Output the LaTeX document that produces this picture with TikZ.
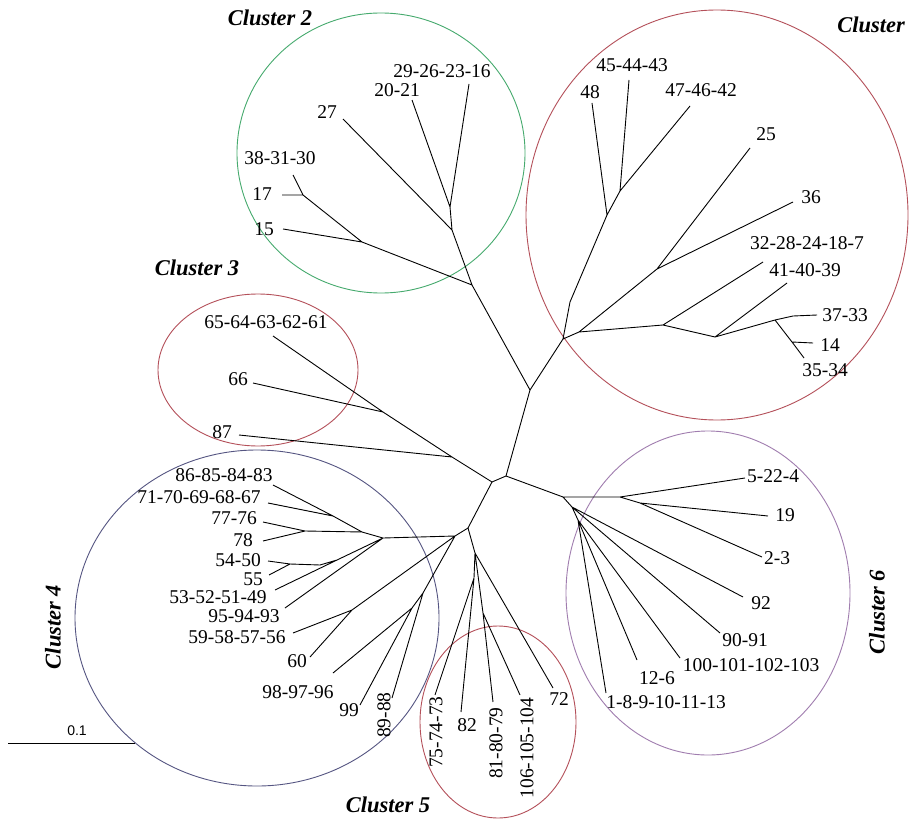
\documentclass[tikz,border=0pt]{standalone}
\usepackage{fontspec}
\setmainfont{Liberation Serif}
\setsansfont{Liberation Sans}
\definecolor{cred}{RGB}{180,80,90}
\definecolor{cgreen}{RGB}{70,170,110}
\definecolor{cblue}{RGB}{85,85,130}
\definecolor{cpurple}{RGB}{160,125,175}
\begin{document}
\begin{tikzpicture}[x=1pt,y=-1pt,
  br/.style={line width=0.9pt},
  ell/.style={line width=0.9pt},
  lab/.style={font=\fontsize{19.5}{20}\selectfont, inner sep=0pt},
  clab/.style={font=\fontsize{22.5}{24}\selectfont\bfseries\itshape, inner sep=0pt},
  scl/.style={font=\sffamily\fontsize{14}{15}\selectfont, inner sep=0pt}]
\useasboundingbox[fill=white] (0,0) rectangle (912,821);

% cluster outlines
\draw[ell,cred]    (717,215) ellipse [x radius=191, y radius=205];
\draw[ell,cgreen]  (381,153) ellipse [x radius=144, y radius=140];
\draw[ell,cred]    (258,370) ellipse [x radius=100, y radius=76];
\draw[ell,cblue]   (257,618) ellipse [x radius=182, y radius=168];
\draw[ell,cred]    (498,722) ellipse [x radius=78, y radius=96];
\draw[ell,cpurple] (708,593) ellipse [x radius=142, y radius=162];

% core junctions
\coordinate (A) at (530,390);
\coordinate (R1) at (563,339);
\coordinate (B) at (506,476);
\coordinate (C) at (492,482);
\coordinate (D) at (563,497);
\coordinate (E) at (468,528);

% cluster 2
\coordinate (K1) at (472,285);
\coordinate (K2) at (452,230);
\coordinate (K3) at (450,207);
\coordinate (K4) at (362,242);
\coordinate (K5) at (303,195);
\coordinate (t2926) at (469,84);
\coordinate (t2021) at (412,100);
\coordinate (t27) at (343,119);
\coordinate (t3831) at (293,175);
\coordinate (t17) at (282,195);
\coordinate (t15) at (283,229);

% cluster 3
\coordinate (C3a) at (452,457);
\coordinate (C3b) at (383,412);
\coordinate (t6561) at (273,336);
\coordinate (t66) at (253,383);
\coordinate (t87) at (239,435);

% cluster 1
\coordinate (P1) at (570,302);
\coordinate (P2) at (607,215);
\coordinate (P3) at (620,191);
\coordinate (t4544) at (629,80);
\coordinate (t4746) at (690,106);
\coordinate (t48) at (592,103);
\coordinate (Q1) at (579,332);
\coordinate (Q2) at (657,269);
\coordinate (Q3) at (663,325);
\coordinate (Q4) at (715,337);
\coordinate (Q5) at (775,320);
\coordinate (Q6) at (793,316);
\coordinate (Q7) at (792,342);
\coordinate (t25) at (750,148);
\coordinate (t36) at (793,202);
\coordinate (t3228) at (763,262);
\coordinate (t4140) at (787,283);
\coordinate (t3733) at (817,315);
\coordinate (t14) at (813,343);
\coordinate (t3534) at (804,358);

% cluster 4
\coordinate (F) at (455,536);
\coordinate (J4a) at (383,538);
\coordinate (J4b) at (362,532);
\coordinate (J4e) at (333,516);
\coordinate (J4f) at (305,531);
\coordinate (J4c) at (337,560);
\coordinate (J4d) at (320,565);
\coordinate (J4g) at (290,564);
\coordinate (J59) at (352,610);
\coordinate (J98) at (423,593);
\coordinate (J99) at (412,608);
\coordinate (t8683) at (273,485);
\coordinate (t7170) at (268,503);
\coordinate (t7776) at (263,522);
\coordinate (t78) at (263,541);
\coordinate (t5450) at (268,561);
\coordinate (t55) at (269,575);
\coordinate (t5352) at (275,590);
\coordinate (t9594) at (285,608);
\coordinate (t5958) at (293,633);
\coordinate (t60) at (310,657);
\coordinate (t9897) at (333,673);
\coordinate (t99) at (360,705);
\coordinate (t8988) at (392,698);

% cluster 5
\coordinate (G) at (475,553);
\coordinate (H) at (474,578);
\coordinate (I) at (483,613);
\coordinate (t7574) at (435,695);
\coordinate (t82) at (461,712);
\coordinate (t8180) at (493,702);
\coordinate (t106) at (520,695);
\coordinate (t72) at (553,688);

% cluster 6
\coordinate (J6a) at (620,497);
\coordinate (J6b) at (640,503);
\coordinate (J6c) at (572,507);
\coordinate (J6d) at (578,520);
\coordinate (t5224) at (745,478);
\coordinate (t19) at (768,516);
\coordinate (t23) at (762,557);
\coordinate (t92) at (743,597);
\coordinate (t9091) at (720,633);
\coordinate (t100) at (680,658);
\coordinate (t126) at (637,660);
\coordinate (t189) at (606,693);

% branches
\draw[br] (A)--(R1) (A)--(B) (B)--(C) (B)--(D) (C)--(E);
\draw[br] (A)--(K1)--(K2)--(K3) (K2)--(t27) (K3)--(t2021) (K3)--(t2926)
          (K1)--(K4)--(t15) (K4)--(K5)--(t3831) (K5)--(t17);
\draw[br] (C)--(C3a)--(C3b)--(t6561) (C3a)--(t87) (C3b)--(t66);
\draw[br] (R1)--(P1)--(P2)--(P3)--(t4544) (P3)--(t4746) (P2)--(t48)
          (R1)--(Q1)--(Q2)--(t25) (Q2)--(t36)
          (Q1)--(Q3)--(t3228) (Q3)--(Q4)--(t4140) (Q4)--(Q5)--(Q6)--(t3733)
          (Q5)--(Q7)--(t3534) (Q7)--(t14);
\draw[br] (E)--(F)--(J4a) (J4a)--(J4b)--(J4e)--(t8683) (J4e)--(t7170)
          (J4b)--(J4f)--(t7776) (J4f)--(t78)
          (J4a)--(J4c)--(t5352) (J4c)--(J4d)--(J4g)--(t5450) (J4g)--(t55)
          (J4a)--(t9594)
          (F)--(J59)--(t5958) (J59)--(t60)
          (F)--(J98)--(t8988) (J98)--(J99)--(t9897) (J99)--(t99);
\draw[br] (E)--(G)--(H)--(t7574) (H)--(t82) (G)--(I)--(t8180) (I)--(t106) (G)--(t72);
\draw[br] (D)--(J6a)--(t5224) (J6a)--(J6b)--(t19) (J6b)--(t23)
          (D)--(J6c)--(t92) (J6c)--(t9091) (J6c)--(J6d)--(t100)
          (J6d)--(t126) (J6d)--(t189);

% scale bar
\coordinate (s1) at (8,743);
\coordinate (s2) at (135,743);
\draw[br] (s1)--(s2);
\node[scl] (sl) at (77,731) {0.1};

% cluster titles
\node[clab] (n1) at (871,25) {Cluster};
\node[clab] (n2) at (270,18) {Cluster 2};
\node[clab] (n3) at (197,268) {Cluster 3};
\node[clab,rotate=90] (n4) at (53,627) {Cluster 4};
\node[clab] (n5) at (388,805) {Cluster 5};
\node[clab,rotate=90] (n6) at (877,612) {Cluster 6};

% labels cluster 2
\node[lab] (l2926) at (442,71) {29-26-23-16};
\node[lab] (l2021) at (397,90) {20-21};
\node[lab] (l27) at (327,112) {27};
\node[lab] (l3831) at (280,158) {38-31-30};
\node[lab] (l17) at (262,194) {17};
\node[lab] (l15) at (264,229) {15};
% labels cluster 1
\node[lab] (l4544) at (632,65) {45-44-43};
\node[lab] (l48) at (590,92) {48};
\node[lab] (l4746) at (701,90) {47-46-42};
\node[lab] (l25) at (766,134) {25};
\node[lab] (l36) at (811,197) {36};
\node[lab] (l3228) at (807,243) {32-28-24-18-7};
\node[lab] (l4140) at (805,270) {41-40-39};
\node[lab] (l3733) at (845,315) {37-33};
\node[lab] (l14) at (830,345) {14};
\node[lab] (l3534) at (825,370) {35-34};
% labels cluster 3
\node[lab] (l6561) at (266,322) {65-64-63-62-61};
\node[lab] (l66) at (238,379) {66};
\node[lab] (l87) at (222,432) {87};
% labels cluster 4
\node[lab] (l8683) at (224,475) {86-85-84-83};
\node[lab] (l7170) at (199,497) {71-70-69-68-67};
\node[lab] (l7776) at (234,518) {77-76};
\node[lab] (l78) at (243,540) {78};
\node[lab] (l5450) at (238,560) {54-50};
\node[lab] (l55) at (253,579) {55};
\node[lab] (l5352) at (218,597) {53-52-51-49};
\node[lab] (l9594) at (244,616) {95-94-93};
\node[lab] (l5958) at (237,637) {59-58-57-56};
\node[lab] (l60) at (297,661) {60};
\node[lab] (l9897) at (298,692) {98-97-96};
\node[lab] (l99) at (349,710) {99};
\node[lab,rotate=90] (l8988) at (384,715) {89-88};
% labels cluster 5
\node[lab,rotate=90] (l7574) at (436,732) {75-74-73};
\node[lab] (l82) at (467,725) {82};
\node[lab,rotate=90] (l8180) at (496,743) {81-80-79};
\node[lab,rotate=90] (l106) at (527,748) {106-105-104};
\node[lab] (l72) at (559,699) {72};
% labels cluster 6
\node[lab] (l5224) at (773,476) {5-22-4};
\node[lab] (l19) at (785,515) {19};
\node[lab] (l23) at (777,558) {2-3};
\node[lab] (l92) at (761,603) {92};
\node[lab] (l9091) at (745,640) {90-91};
\node[lab] (l100) at (751,665) {100-101-102-103};
\node[lab] (l126) at (657,678) {12-6};
\node[lab] (l189) at (666,702) {1-8-9-10-11-13};
\end{tikzpicture}
\end{document}
